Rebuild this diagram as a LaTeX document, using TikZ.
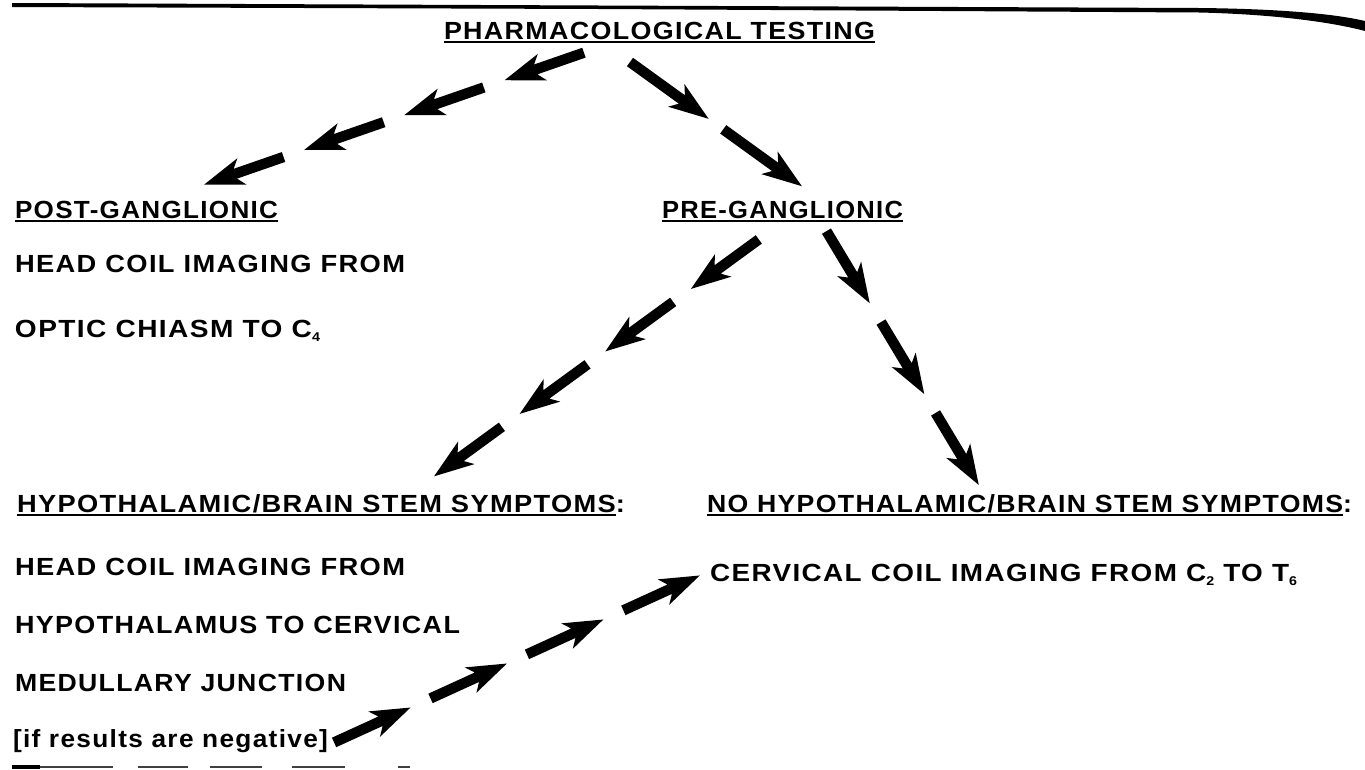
\documentclass[tikz,border=0pt]{standalone}
\usepackage{fontspec}
\usepackage{graphicx}
\usetikzlibrary{decorations.markings}
\newfontfamily\hf{Liberation Sans}[LetterSpace=5]
\newdimen\pxu \pxu=0.75pt
\newcommand\fitpx[2]{\resizebox{#1\pxu}{\height}{#2}}
\newcommand\ulx[1]{\setbox0=\hbox{#1}\rlap{\rule[-3.3pt]{\wd0}{1.5pt}}\box0}
\newcommand\sub[1]{\raisebox{-3.5pt}{\fontsize{9.5}{9.5}\selectfont #1}}
\tikzset{
  txt/.style={anchor=base west, inner sep=0pt, outer sep=0pt,
    font=\hf\bfseries\fontsize{18.6}{21}\selectfont},
  arrowtrain/.style n args={3}{decorate, decoration={markings,
    mark=between positions #1 and 1 step #2 with {
      \fill (0,0) -- (-40,14) -- (-33,5.2) -- (-#3,5.2) -- (-#3,-5.2) -- (-33,-5.2) -- (-40,-14) -- cycle;}}},
  longtrain/.style={arrowtrain={62.25pt}{79.5pt}{84}},
  shorttrain/.style={arrowtrain={72.75pt}{86.25pt}{97}},
  scanline/.style={black!75, line width=1.6pt}
}
\begin{document}
\begin{tikzpicture}[x=0.75pt,y=-0.75pt]
\fill[white] (0,0) rectangle (1365,769);
\useasboundingbox (0,0) rectangle (1365,769);
% top rule
\fill (12,3) -- (600,5.5) -- (1200,8) .. controls (1290,9) and (1340,15) .. (1365,21)
  -- (1365,31) .. controls (1335,23) and (1280,14.5) .. (1200,12.5) -- (600,9) -- (12,7) -- cycle;
% texts
\node[txt] (title) at (444,39) {\fitpx{431}{\ulx{PHARMACOLOGICAL TESTING}}};
\node[txt] (post) at (15,218) {\fitpx{263}{\ulx{POST-GANGLIONIC}}};
\node[txt] (pre) at (662,218) {\fitpx{241}{\ulx{PRE-GANGLIONIC}}};
\node[txt] (hc1) at (15,272) {\fitpx{390}{HEAD COIL IMAGING FROM}};
\node[txt] (oc) at (15,337) {\fitpx{305}{OPTIC CHIASM TO C\sub{4}}};
\node[txt] (hyp) at (17,512) {\fitpx{608}{\ulx{HYPOTHALAMIC/BRAIN STEM SYMPTOMS}:}};
\node[txt] (nohyp) at (707,512) {\fitpx{645}{\ulx{NO HYPOTHALAMIC/BRAIN STEM SYMPTOMS}:}};
\node[txt] (hc2) at (15,575) {\fitpx{390}{HEAD COIL IMAGING FROM}};
\node[txt] (hypo) at (15,633) {\fitpx{445}{HYPOTHALAMUS TO CERVICAL}};
\node[txt] (med) at (15,691) {\fitpx{331}{MEDULLARY JUNCTION}};
\node[txt] (neg) at (13,747) {\fitpx{315}{[if results are negative]}};
\node[txt] (cerv) at (710,581) {\fitpx{587}{CERVICAL COIL IMAGING FROM C\sub{2} TO T\sub{6}}};
% arrow trains
\path[longtrain] ([shift={(139,14)}]title.base west) -- ([shift={(185,-32)}]post.base west);
\path[shorttrain] ([shift={(186,23)}]title.base west) -- ([shift={(141,-31)}]pre.base west);
\path[longtrain] ([shift={(96,22)}]pre.base west) -- ([shift={(412,-32)}]hyp.base west);
\path[longtrain] ([shift={(165,14)}]pre.base west) -- ([shift={(273,-25)}]nohyp.base west);
\path[longtrain] ([shift={(322,-5)}]neg.base west) -- ([shift={(-7,-7)}]cerv.base west);
% bottom scan marks
\draw[scanline] (12,767) -- (113,767);
\draw[black, line width=2.4pt] (12,767) -- (40,767);
\draw[scanline] (138,767) -- (188,767);
\draw[scanline] (210,767) -- (262,767);
\draw[scanline] (292,767) -- (345,767);
\draw[scanline] (398,767) -- (410,767);
\end{tikzpicture}
\end{document}
